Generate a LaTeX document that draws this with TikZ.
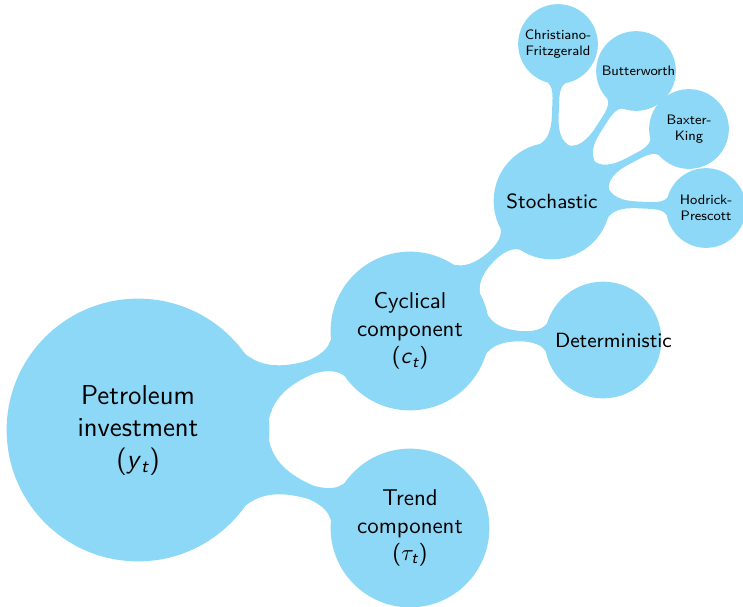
\documentclass[tikz,border=0pt]{standalone}
\usepackage{amsmath}
\usetikzlibrary{mindmap}
\renewcommand{\familydefault}{\sfdefault}
\definecolor{mmblue}{RGB}{141,216,246}
\newcommand{\sv}[1]{\textsl{#1}}
\begin{document}
\begin{tikzpicture}[x=0.4378pt,y=-0.4378pt]
\useasboundingbox (0,0) rectangle (743,606);
\begin{scope}[mindmap, concept color=mmblue, text=black,
  every concept/.append style={inner sep=0pt, outer sep=0pt},
  rootc/.style={concept, minimum size=260*0.4378pt, text width=60pt, align=center, font=\large},
  lonec/.style={concept, minimum size=156*0.4378pt, text width=48pt, align=center, font=\normalsize},
  ltwoc/.style={concept, minimum size=114*0.4378pt, text width=42pt, align=center, font=\small},
  lthreec/.style={concept, minimum size=77*0.4378pt, text width=30pt, align=center, font=\fontsize{6}{7}\selectfont}]
\node[rootc] (root) at (138,430) {Petroleum investment\\ (\sv{y}$_{\sv{t}}$)};
\node[lonec] (cyc) at (410,331) {Cyclical component\\ (\sv{c}$_{\sv{t}}$)};
\node[lonec] (trend) at (410,528) {Trend component\\ ($\tau_{\sv{t}}$)};
\node[ltwoc] (sto) at (552,201) {Stochastic};
\node[ltwoc] (det) at (603,340) {Deterministic};
\node[lthreec] (cf) at (558,44) {Christiano-\\Fritzgerald};
\node[lthreec] (bw) at (636,71) {Butterworth};
\node[lthreec] (bk) at (689,129) {Baxter-\\King};
\node[lthreec] (hp) at (706,208) {Hodrick-\\Prescott};
\path (root) to[circle connection bar switch color=from (mmblue) to (mmblue)] (cyc);
\path (root) to[circle connection bar switch color=from (mmblue) to (mmblue)] (trend);
\path (cyc) to[circle connection bar switch color=from (mmblue) to (mmblue)] (sto);
\path (cyc) to[circle connection bar switch color=from (mmblue) to (mmblue)] (det);
\path (sto) to[circle connection bar switch color=from (mmblue) to (mmblue)] (cf);
\path (sto) to[circle connection bar switch color=from (mmblue) to (mmblue)] (bw);
\path (sto) to[circle connection bar switch color=from (mmblue) to (mmblue)] (bk);
\path (sto) to[circle connection bar switch color=from (mmblue) to (mmblue)] (hp);
\end{scope}
\end{tikzpicture}
\end{document}
